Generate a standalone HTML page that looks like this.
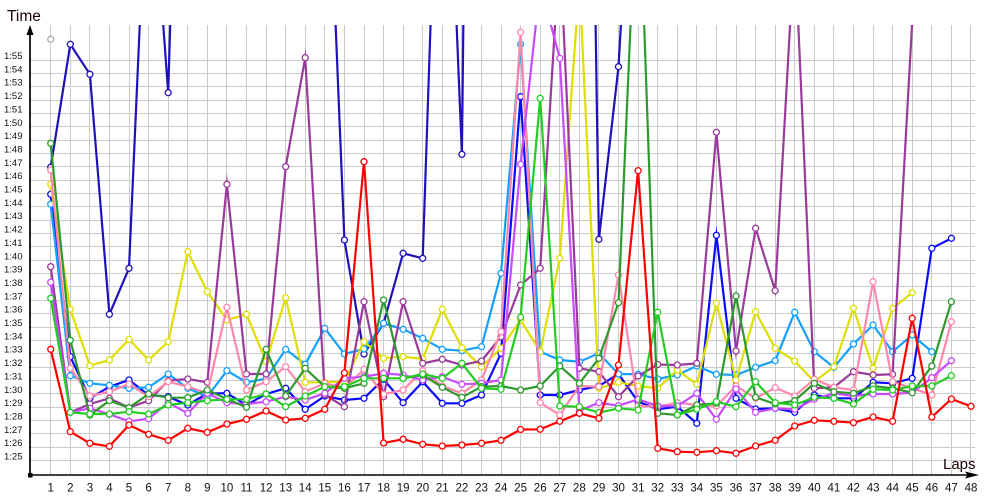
<!DOCTYPE html>
<html><head><meta charset="utf-8"><style>
html,body{margin:0;padding:0;background:#fff;}
svg{display:block;}
.yl{font-family:"Liberation Sans",sans-serif;font-size:9.5px;fill:#111;}
.xl{font-family:"Liberation Sans",sans-serif;font-size:11.5px;fill:#111;text-anchor:middle;}
.s{fill:none;stroke-width:2.2;stroke-linejoin:miter;stroke-miterlimit:10;}
</style></head><body>
<svg width="1000" height="500" viewBox="0 0 1000 500" xmlns="http://www.w3.org/2000/svg">
<defs>
<clipPath id="c"><rect x="30" y="25" width="960" height="450"/></clipPath>
<marker id="mr" markerWidth="10" markerHeight="10" refX="5" refY="5" markerUnits="userSpaceOnUse"><circle cx="5" cy="5" r="3" fill="#fff" stroke="#ff0000" stroke-width="1.3"/></marker>
<marker id="mn" markerWidth="10" markerHeight="10" refX="5" refY="5" markerUnits="userSpaceOnUse"><circle cx="5" cy="5" r="3" fill="#fff" stroke="#2010b8" stroke-width="1.3"/></marker>
<marker id="mb" markerWidth="10" markerHeight="10" refX="5" refY="5" markerUnits="userSpaceOnUse"><circle cx="5" cy="5" r="3" fill="#fff" stroke="#0a0aff" stroke-width="1.3"/></marker>
<marker id="ml" markerWidth="10" markerHeight="10" refX="5" refY="5" markerUnits="userSpaceOnUse"><circle cx="5" cy="5" r="3" fill="#fff" stroke="#14a0ff" stroke-width="1.3"/></marker>
<marker id="my" markerWidth="10" markerHeight="10" refX="5" refY="5" markerUnits="userSpaceOnUse"><circle cx="5" cy="5" r="3" fill="#fff" stroke="#dede00" stroke-width="1.3"/></marker>
<marker id="mp" markerWidth="10" markerHeight="10" refX="5" refY="5" markerUnits="userSpaceOnUse"><circle cx="5" cy="5" r="3" fill="#fff" stroke="#9a3a9a" stroke-width="1.3"/></marker>
<marker id="mk" markerWidth="10" markerHeight="10" refX="5" refY="5" markerUnits="userSpaceOnUse"><circle cx="5" cy="5" r="3" fill="#fff" stroke="#ff88aa" stroke-width="1.3"/></marker>
<marker id="mv" markerWidth="10" markerHeight="10" refX="5" refY="5" markerUnits="userSpaceOnUse"><circle cx="5" cy="5" r="3" fill="#fff" stroke="#c84bff" stroke-width="1.3"/></marker>
<marker id="mg" markerWidth="10" markerHeight="10" refX="5" refY="5" markerUnits="userSpaceOnUse"><circle cx="5" cy="5" r="3" fill="#fff" stroke="#2e992e" stroke-width="1.3"/></marker>
<marker id="me" markerWidth="10" markerHeight="10" refX="5" refY="5" markerUnits="userSpaceOnUse"><circle cx="5" cy="5" r="3" fill="#fff" stroke="#22cc22" stroke-width="1.3"/></marker>
</defs>
<rect width="1000" height="500" fill="#fff"/>
<g stroke="#cbcbcb" stroke-width="1">
<path d="M30 460.5H975M30 447.5H975M30 433.5H975M30 420.5H975M30 407.5H975M30 393.5H975M30 380.5H975M30 367.5H975M30 353.5H975M30 340.5H975M30 327.5H975M30 313.5H975M30 300.5H975M30 286.5H975M30 273.5H975M30 260.5H975M30 246.5H975M30 233.5H975M30 220.5H975M30 206.5H975M30 193.5H975M30 180.5H975M30 166.5H975M30 153.5H975M30 140.5H975M30 126.5H975M30 113.5H975M30 100.5H975M30 86.5H975M30 73.5H975M30 60.5H975"/>
<path d="M50.5 25V475M70.5 25V475M89.5 25V475M109.5 25V475M129.5 25V475M148.5 25V475M168.5 25V475M187.5 25V475M207.5 25V475M226.5 25V475M246.5 25V475M266.5 25V475M285.5 25V475M305.5 25V475M324.5 25V475M344.5 25V475M364.5 25V475M383.5 25V475M403.5 25V475M422.5 25V475M442.5 25V475M461.5 25V475M481.5 25V475M501.5 25V475M520.5 25V475M540.5 25V475M559.5 25V475M579.5 25V475M598.5 25V475M618.5 25V475M638.5 25V475M657.5 25V475M677.5 25V475M696.5 25V475M716.5 25V475M736.5 25V475M755.5 25V475M775.5 25V475M794.5 25V475M814.5 25V475M833.5 25V475M853.5 25V475M873.5 25V475M892.5 25V475M912.5 25V475M931.5 25V475M951.5 25V475M970.5 25V475"/>
</g>

<g clip-path="url(#c)">
<circle cx="50.7" cy="39.3" r="3" fill="#fff" stroke="#aaaaaa" stroke-width="1.3"/>
<polyline class="s" stroke="#2010b8" marker-start="url(#mn)" marker-mid="url(#mn)" marker-end="url(#mn)" points="50.7,167.3 70.3,44.3 89.9,74.3 109.4,314.3 129,268.3 148.6,-175 168.2,92.7 187.8,-570 207.3,-600 226.9,-600 246.5,-600 266.1,-600 285.7,-600 305.2,-500 324.8,-240 344.4,240 364,354 383.6,323.3 403.1,253.3 422.7,258.3 442.3,-325 461.9,154.3 481.5,-1600 501,-1600 520.6,-1600 540.2,-1600 559.8,-1500 579.4,-1030 598.9,239.3 618.5,66.7 638.1,-273"/>
<polyline class="s" stroke="#0a0aff" marker-start="url(#mb)" marker-mid="url(#mb)" marker-end="url(#mb)" points="50.7,194.3 70.3,356.7 89.9,398.3 109.4,386.7 129,380 148.6,395 168.2,396.7 187.8,405 207.3,393.3 226.9,393.3 246.5,405 266.1,394 285.7,388.3 305.2,409.3 324.8,396 344.4,400 364,398.3 383.6,379.3 403.1,402.7 422.7,381.7 442.3,403.3 461.9,403.3 481.5,395 501,353.3 520.6,96.7 540.2,395 559.8,395 579.4,390 598.9,386 618.5,374 638.1,401.7 657.7,409.3 677.3,406.7 696.8,423.3 716.4,235.3 736,398.3 755.6,409 775.2,408.3 794.7,412.3 814.3,395 833.9,398.3 853.5,398.3 873.1,382.3 892.6,383.3 912.2,378.3 931.8,248.3 951.4,238.3"/>
<polyline class="s" stroke="#14a0ff" marker-start="url(#ml)" marker-mid="url(#ml)" marker-end="url(#ml)" points="50.7,204.3 70.3,375.7 89.9,383.3 109.4,385.3 129,388.3 148.6,387.3 168.2,374 187.8,388.3 207.3,396.7 226.9,370.7 246.5,382.3 266.1,378.7 285.7,349.3 305.2,364.3 324.8,328.3 344.4,354 364,349 383.6,323.3 403.1,329.3 422.7,338.3 442.3,349.3 461.9,350.7 481.5,346.7 501,273.3 520.6,44.3 540.2,351.7 559.8,360 579.4,361.7 598.9,353.3 618.5,374 638.1,374.3 657.7,379 677.3,375 696.8,366 716.4,374.3 736,375 755.6,367.3 775.2,360.7 794.7,312.3 814.3,351.7 833.9,367.3 853.5,344 873.1,325 892.6,351.7 912.2,335 931.8,351.7"/>
<polyline class="s" stroke="#dede00" marker-start="url(#my)" marker-mid="url(#my)" marker-end="url(#my)" points="50.7,184.3 70.3,309.3 89.9,365.7 109.4,360 129,339.3 148.6,360 168.2,341.7 187.8,251.7 207.3,291.7 226.9,320 246.5,314.3 266.1,361.7 285.7,297.7 305.2,382.3 324.8,382.3 344.4,381.7 364,341.7 383.6,358.3 403.1,356.7 422.7,359 442.3,309.3 461.9,347.7 481.5,366.7 501,348.3 520.6,320 540.2,351.7 559.8,258.3 579.4,-18 598.9,388.3 618.5,382.3 638.1,386 657.7,388.3 677.3,370 696.8,384.3 716.4,303.3 736,380 755.6,311.7 775.2,348.3 794.7,361 814.3,381.7 833.9,366.7 853.5,308.3 873.1,368.3 892.6,308.3 912.2,292.7"/>
<polyline class="s" stroke="#9a3a9a" marker-start="url(#mp)" marker-mid="url(#mp)" marker-end="url(#mp)" points="50.7,266.7 70.3,412.3 89.9,404 109.4,398.3 129,407.7 148.6,400.7 168.2,380.7 187.8,379 207.3,382.3 226.9,184.3 246.5,374 266.1,374 285.7,166.7 305.2,57.7 324.8,395 344.4,406.7 364,301.7 383.6,396.7 403.1,301.7 422.7,363.3 442.3,359.3 461.9,365 481.5,361 501,336.7 520.6,285 540.2,268.3 559.8,-53 579.4,368.3 598.9,371.7 618.5,396.7 638.1,376 657.7,364.5 677.3,365 696.8,363.3 716.4,132.3 736,351 755.6,228.3 775.2,290.7 794.7,-57 814.3,388.3 833.9,387.3 853.5,371.7 873.1,375 892.6,374.3 912.2,22"/>
<polyline class="s" stroke="#ff88aa" marker-start="url(#mk)" marker-mid="url(#mk)" marker-end="url(#mk)" points="50.7,170 70.3,368.3 89.9,396 109.4,391.7 129,384 148.6,396.7 168.2,381.7 187.8,386.7 207.3,393.3 226.9,307.3 246.5,390 266.1,381.7 285.7,366.7 305.2,391.7 324.8,383.3 344.4,388.3 364,369.3 383.6,394.3 403.1,390 422.7,370.7 442.3,386 461.9,393.3 481.5,380 501,331.7 520.6,32.3 540.2,402.7 559.8,415 579.4,386 598.9,386.7 618.5,275 638.1,406 657.7,406.7 677.3,402.7 696.8,405 716.4,406 736,386 755.6,398.3 775.2,387.7 794.7,396 814.3,379.3 833.9,387.3 853.5,390 873.1,281.7 892.6,381.7 912.2,388.3 931.8,395 951.4,321.7"/>
<polyline class="s" stroke="#c84bff" marker-start="url(#mv)" marker-mid="url(#mv)" marker-end="url(#mv)" points="50.7,282.3 70.3,412.3 89.9,408.3 109.4,414.3 129,421.3 148.6,418.7 168.2,402.7 187.8,413.3 207.3,393.3 226.9,402.7 246.5,404 266.1,401.7 285.7,396.7 305.2,400 324.8,393.3 344.4,378.3 364,376.7 383.6,373.3 403.1,375 422.7,380 442.3,376.7 461.9,384.3 481.5,383.3 501,380 520.6,164.3 540.2,-15 559.8,58.3 579.4,410.7 598.9,402.7 618.5,405.7 638.1,399.3 657.7,406 677.3,406 696.8,393.3 716.4,419.3 736,389 755.6,412.3 775.2,408.3 794.7,409.3 814.3,399.3 833.9,393.3 853.5,396 873.1,394 892.6,394 912.2,392.7 931.8,377.7 951.4,360.7"/>
<polyline class="s" stroke="#2e992e" marker-start="url(#mg)" marker-mid="url(#mg)" marker-end="url(#mg)" points="50.7,143.3 70.3,340.3 89.9,415 109.4,400.7 129,407.7 148.6,394 168.2,397.7 187.8,397.7 207.3,390 226.9,399 246.5,407.3 266.1,349.3 285.7,396 305.2,368.3 324.8,386.7 344.4,388.3 364,383.3 383.6,300 403.1,378.3 422.7,375 442.3,387.3 461.9,397.3 481.5,386.7 501,386 520.6,390 540.2,386 559.8,366 579.4,383.3 598.9,358.3 618.5,302.7 638.1,-150 657.7,413.3 677.3,415 696.8,405 716.4,403.3 736,296 755.6,397.3 775.2,404 794.7,400.7 814.3,383.3 833.9,391.7 853.5,393.3 873.1,386 892.6,388.3 912.2,392.7 931.8,366 951.4,301.7"/>
<polyline class="s" stroke="#22cc22" marker-start="url(#me)" marker-mid="url(#me)" marker-end="url(#me)" points="50.7,298.3 70.3,412.3 89.9,414 109.4,414 129,411.7 148.6,414 168.2,405 187.8,402.7 207.3,400.7 226.9,399.3 246.5,399.3 266.1,394 285.7,406.7 305.2,396 324.8,386.7 344.4,386.7 364,378.3 383.6,378.3 403.1,378.3 422.7,374 442.3,378.3 461.9,363.3 481.5,388.3 501,389.3 520.6,317.3 540.2,98.3 559.8,406 579.4,406.7 598.9,412.7 618.5,408.3 638.1,410 657.7,312.3 677.3,415 696.8,409.3 716.4,401.7 736,406.7 755.6,381.7 775.2,402.7 794.7,405 814.3,397.3 833.9,398.3 853.5,404 873.1,389.3 892.6,390 912.2,386 931.8,386 951.4,375.7"/>
<polyline class="s" stroke="#ff0000" marker-start="url(#mr)" marker-mid="url(#mr)" marker-end="url(#mr)" points="50.7,349.3 70.3,431.7 89.9,443.3 109.4,446.3 129,425 148.6,434.3 168.2,440.3 187.8,428.3 207.3,432.3 226.9,424 246.5,419.3 266.1,411 285.7,420 305.2,418.3 324.8,409.3 344.4,373 364,161.7 383.6,443 403.1,439.3 422.7,444.3 442.3,446 461.9,445 481.5,443.3 501,440.3 520.6,429.5 540.2,429.3 559.8,421.3 579.4,413.3 598.9,418.3 618.5,365 638.1,170.7 657.7,448.3 677.3,451.7 696.8,452.3 716.4,450.7 736,453.3 755.6,446 775.2,440.3 794.7,426 814.3,420.3 833.9,421.3 853.5,422.7 873.1,417 892.6,421.3 912.2,318.3 931.8,417 951.4,399 971,406.3"/>
</g>

<!-- axes -->
<line x1="30" y1="33" x2="30" y2="475" stroke="#000" stroke-width="1.7"/>
<line x1="30" y1="475" x2="968" y2="475" stroke="#000" stroke-width="1.5"/>
<polygon points="30,25 26.5,35 33.5,35" fill="#000"/>
<polygon points="979,475 965,471.5 967.5,475 965,478.5" fill="#000"/>
<rect x="28" y="473" width="4.5" height="4.5" fill="#000"/>

<text x="7" y="21" font-family="Liberation Sans, sans-serif" font-size="15.5" fill="#1a0000">Time</text>
<text x="943" y="469" font-family="Liberation Sans, sans-serif" font-size="15" fill="#1a0000">Laps</text>

<g class="yl">
<text x="4" y="459.5">1:25</text><text x="4" y="446.2">1:26</text><text x="4" y="432.8">1:27</text><text x="4" y="419.5">1:28</text><text x="4" y="406.1">1:29</text><text x="4" y="392.8">1:30</text><text x="4" y="379.4">1:31</text><text x="4" y="366.1">1:32</text><text x="4" y="352.7">1:33</text><text x="4" y="339.4">1:34</text><text x="4" y="326">1:35</text><text x="4" y="312.7">1:36</text><text x="4" y="299.3">1:37</text><text x="4" y="286">1:38</text><text x="4" y="272.6">1:39</text><text x="4" y="259.3">1:40</text><text x="4" y="245.9">1:41</text><text x="4" y="232.6">1:42</text><text x="4" y="219.2">1:43</text><text x="4" y="205.9">1:44</text><text x="4" y="192.5">1:45</text><text x="4" y="179.2">1:46</text><text x="4" y="165.8">1:47</text><text x="4" y="152.5">1:48</text><text x="4" y="139.1">1:49</text><text x="4" y="125.8">1:50</text><text x="4" y="112.4">1:51</text><text x="4" y="99.1">1:52</text><text x="4" y="85.7">1:53</text><text x="4" y="72.4">1:54</text><text x="4" y="59">1:55</text>
</g>

<g class="xl">
<text x="50.7" y="491.5">1</text><text x="70.3" y="491.5">2</text><text x="89.9" y="491.5">3</text><text x="109.4" y="491.5">4</text><text x="129" y="491.5">5</text><text x="148.6" y="491.5">6</text><text x="168.2" y="491.5">7</text><text x="187.8" y="491.5">8</text><text x="207.3" y="491.5">9</text><text x="226.9" y="491.5">10</text><text x="246.5" y="491.5">11</text><text x="266.1" y="491.5">12</text><text x="285.7" y="491.5">13</text><text x="305.2" y="491.5">14</text><text x="324.8" y="491.5">15</text><text x="344.4" y="491.5">16</text><text x="364" y="491.5">17</text><text x="383.6" y="491.5">18</text><text x="403.1" y="491.5">19</text><text x="422.7" y="491.5">20</text><text x="442.3" y="491.5">21</text><text x="461.9" y="491.5">22</text><text x="481.5" y="491.5">23</text><text x="501" y="491.5">24</text><text x="520.6" y="491.5">25</text><text x="540.2" y="491.5">26</text><text x="559.8" y="491.5">27</text><text x="579.4" y="491.5">28</text><text x="598.9" y="491.5">29</text><text x="618.5" y="491.5">30</text><text x="638.1" y="491.5">31</text><text x="657.7" y="491.5">32</text><text x="677.3" y="491.5">33</text><text x="696.8" y="491.5">34</text><text x="716.4" y="491.5">35</text><text x="736" y="491.5">36</text><text x="755.6" y="491.5">37</text><text x="775.2" y="491.5">38</text><text x="794.7" y="491.5">39</text><text x="814.3" y="491.5">40</text><text x="833.9" y="491.5">41</text><text x="853.5" y="491.5">42</text><text x="873.1" y="491.5">43</text><text x="892.6" y="491.5">44</text><text x="912.2" y="491.5">45</text><text x="931.8" y="491.5">46</text><text x="951.4" y="491.5">47</text><text x="971" y="491.5">48</text>
</g>
</svg>
</body></html>
